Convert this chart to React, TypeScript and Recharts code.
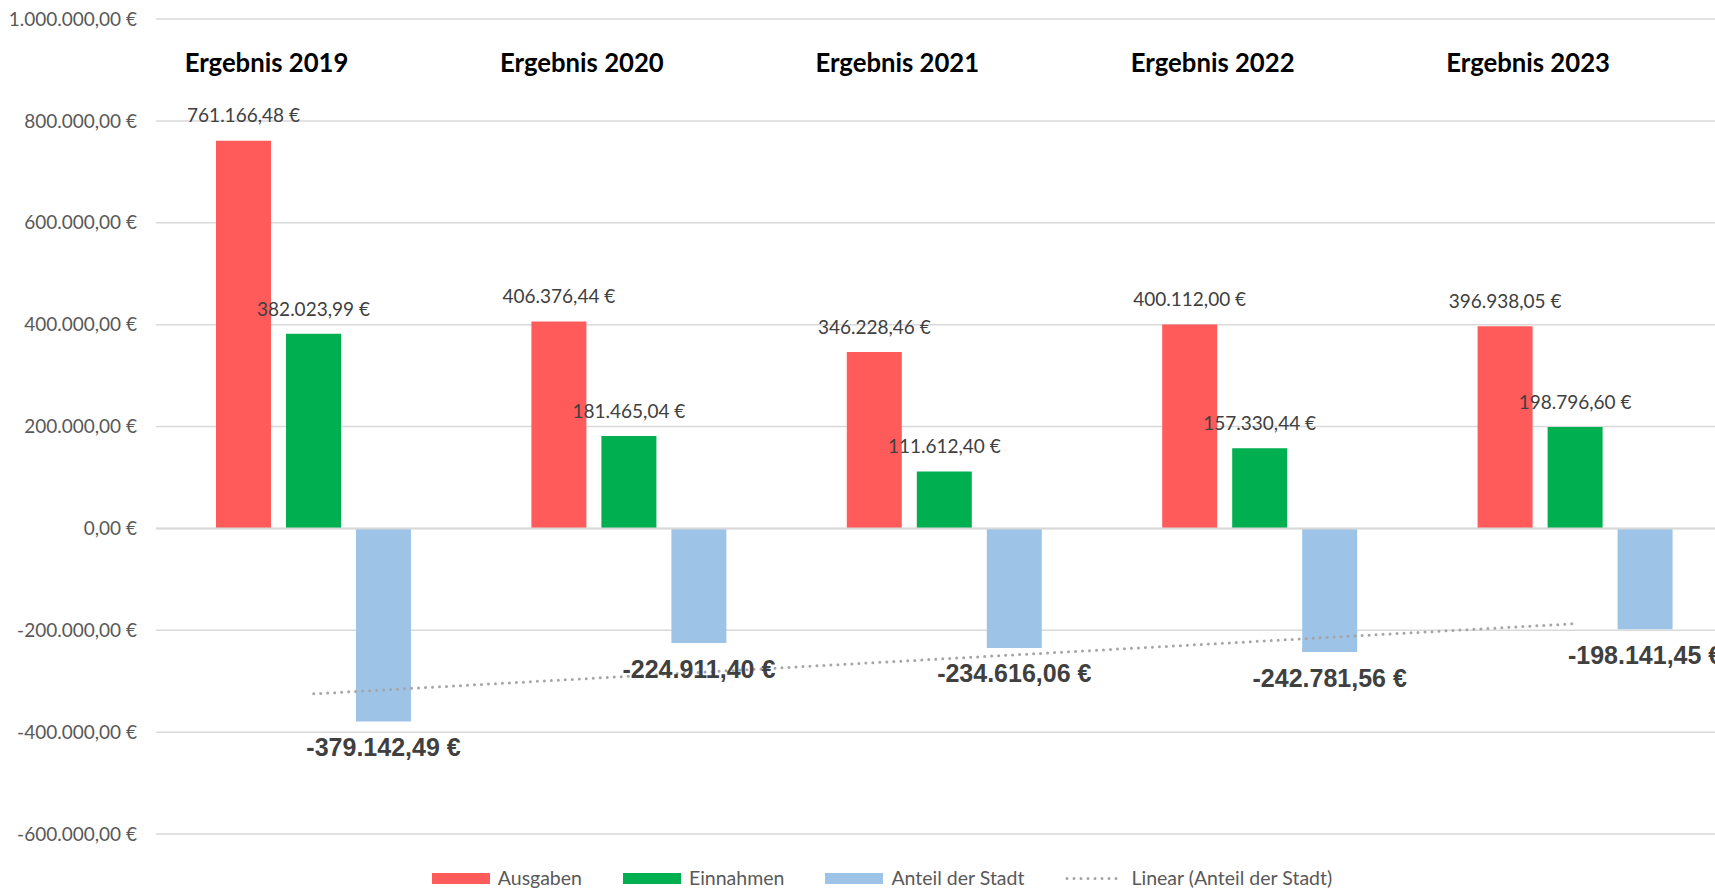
import React from "react";
import {
  Bar,
  CartesianGrid,
  ComposedChart,
  LabelList,
  Legend,
  Line,
  ReferenceLine,
  XAxis,
  YAxis,
} from "recharts";

const years = ["2019", "2020", "2021", "2022", "2023"];
const ausgaben = [761166.48, 406376.44, 346228.46, 400112.0, 396938.05];
const einnahmen = [382023.99, 181465.04, 111612.4, 157330.44, 198796.6];
const anteilStadt = [-379142.49, -224911.4, -234616.06, -242781.56, -198141.45];
// linear trend of "Anteil der Stadt"
const trendStadt = [-324745, -290332, -255919, -221506, -187092];
const yTicks = [-600000, -400000, -200000, 0, 200000, 400000, 600000, 800000, 1000000];

const data = years.map((year, i) => ({
  year,
  ausgaben: ausgaben[i],
  einnahmen: einnahmen[i],
  anteil: anteilStadt[i],
  trend: trendStadt[i],
}));

const CHART_W = 1764;
const CHART_H = 889;
const MARGIN = { top: 19, right: 31, bottom: 55, left: 0 };
const Y_AXIS_W = 156;
const Y_MIN = -600000;
const Y_MAX = 1000000;

const RED = "#FF5B5B";
const GREEN = "#00B050";
const BLUE = "#9DC3E6";
const TREND = "#A5A5A5";
const GRID = "#D9D9D9";
const FONT = "Lato, 'Noto Sans', sans-serif";
const TEXT_SIZE = 19;

function euro(v: number) {
  const [int, dec] = Math.abs(v).toFixed(2).split(".");
  const grouped = int.replace(/\B(?=(\d{3})+(?!\d))/g, ".");
  return `${v < 0 ? "-" : ""}${grouped},${dec} €`;
}

const plotW = CHART_W - MARGIN.left - MARGIN.right - Y_AXIS_W;
const plotH = CHART_H - MARGIN.top - MARGIN.bottom;
const band = plotW / years.length;
const zeroY = MARGIN.top + (plotH * Y_MAX) / (Y_MAX - Y_MIN);

function TopLabel(props: any) {
  const { x, y, width, height, value } = props;
  const top = Math.min(y, y + height);
  return (
    <text x={x + width / 2} y={top - 23} textAnchor="middle" dominantBaseline="middle" fill="#404040" fontSize={TEXT_SIZE} fontFamily={FONT}>
      {euro(value)}
    </text>
  );
}

function BottomLabel(props: any) {
  const { x, y, width, height, value } = props;
  const bottom = Math.max(y, y + height);
  return (
    <text x={x + width / 2} y={bottom + 28} textAnchor="middle" dominantBaseline="middle" fill="#404040" fontSize={25} fontWeight={700} fontFamily="'Liberation Sans', Arial, sans-serif">
      {euro(value)}
    </text>
  );
}

// "Ergebnis <Jahr>" headline, placed a little right of the red bar, near the top of the plot
function TitleLabel(props: any) {
  const { x, width, value } = props;
  return (
    <text x={x + width / 2 + 23} y={MARGIN.top + 46} textAnchor="middle" dominantBaseline="middle" fill="#000" fontSize={25.7} fontWeight={700} fontFamily={FONT}>
      {`Ergebnis ${value}`}
    </text>
  );
}

// small tick marks on the zero line at the category boundaries
function BoundaryTick(props: any) {
  const { x } = props;
  const bx = x - band / 2;
  return <line x1={bx} x2={bx} y1={zeroY} y2={zeroY + 6} stroke={GRID} strokeWidth={1.5} />;
}

const legendItems = [
  { name: "Ausgaben", color: RED, kind: "bar" },
  { name: "Einnahmen", color: GREEN, kind: "bar" },
  { name: "Anteil der Stadt", color: BLUE, kind: "bar" },
  { name: "Linear (Anteil der Stadt)", color: TREND, kind: "line" },
];

function LegendContent() {
  return (
    <div style={{ display: "flex", justifyContent: "center", alignItems: "center", gap: 41, fontFamily: FONT, fontSize: 19.5, color: "#595959" }}>
      {legendItems.map((item) => (
        <div key={item.name} style={{ display: "flex", alignItems: "center", gap: 8 }}>
          {item.kind === "bar" ? (
            <span style={{ display: "inline-block", width: 58, height: 11, background: item.color }} />
          ) : (
            <svg width={58} height={11}>
              <line x1={2} x2={56} y1={5.5} y2={5.5} stroke={item.color} strokeWidth={3} strokeDasharray="0 7" strokeLinecap="round" />
            </svg>
          )}
          <span style={{ lineHeight: "20px" }}>{item.name}</span>
        </div>
      ))}
    </div>
  );
}

export default function App() {
  return (
    <div style={{ position: "fixed", left: 0, top: 0, width: 1715, height: 889, overflow: "hidden", background: "#fff" }}>
      <ComposedChart width={CHART_W} height={CHART_H} data={data} margin={MARGIN} barSize={55} barGap={15}>
        <CartesianGrid vertical={false} stroke={GRID} strokeWidth={1.5} />
        <XAxis dataKey="year" height={0} axisLine={false} tickLine={false} tick={<BoundaryTick />} interval={0} />
        <YAxis
          width={Y_AXIS_W}
          domain={[Y_MIN, Y_MAX]}
          ticks={yTicks}
          axisLine={false}
          tickLine={false}
          tickSize={0}
          tickMargin={19}
          tickFormatter={euro}
          tick={{ fill: "#595959", fontSize: TEXT_SIZE, fontFamily: FONT }}
        />
        <ReferenceLine y={0} stroke={GRID} strokeWidth={2} />
        <Bar dataKey="ausgaben" name="Ausgaben" fill={RED} isAnimationActive={false}>
          <LabelList dataKey="ausgaben" content={<TopLabel />} />
          <LabelList dataKey="year" content={<TitleLabel />} />
        </Bar>
        <Bar dataKey="einnahmen" name="Einnahmen" fill={GREEN} isAnimationActive={false}>
          <LabelList dataKey="einnahmen" content={<TopLabel />} />
        </Bar>
        <Bar dataKey="anteil" name="Anteil der Stadt" fill={BLUE} isAnimationActive={false}>
          <LabelList dataKey="anteil" content={<BottomLabel />} />
        </Bar>
        <Line
          dataKey="trend"
          name="Linear (Anteil der Stadt)"
          stroke={TREND}
          strokeWidth={3}
          strokeDasharray="0 7"
          strokeLinecap="round"
          dot={false}
          activeDot={false}
          isAnimationActive={false}
        />
        <Legend
          content={<LegendContent />}
          wrapperStyle={{ position: "absolute", top: 868, left: 0, width: CHART_W, height: 0 }}
        />
      </ComposedChart>
    </div>
  );
}
